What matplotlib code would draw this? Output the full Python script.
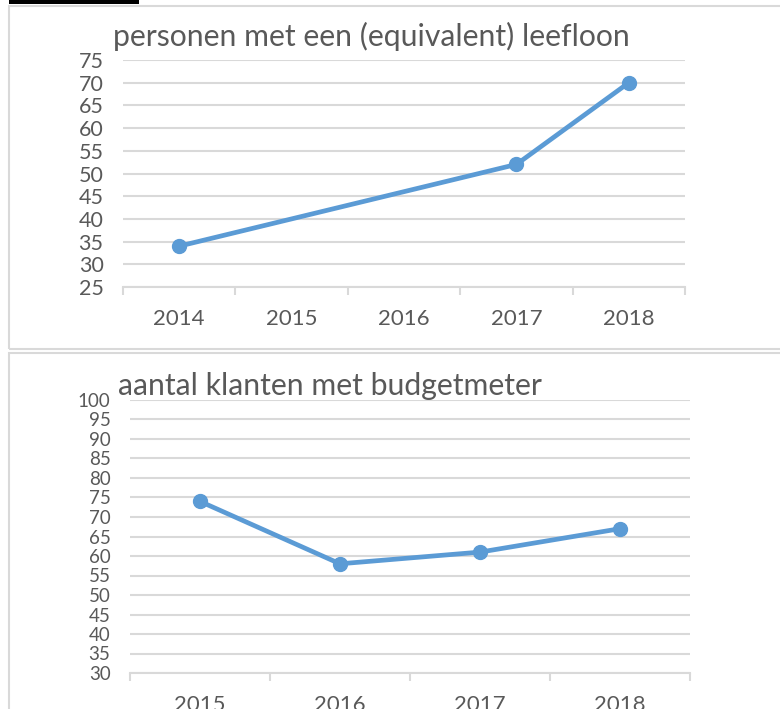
import numpy as np
import matplotlib.pyplot as plt
from matplotlib.patches import Rectangle

# Data
years_top = ['2014', '2015', '2016', '2017', '2018']
leefloon = [34, None, None, 52, 70]   # no values for 2015 and 2016
years_bottom = ['2015', '2016', '2017', '2018']
budgetmeter = [74, 58, 61, 67]

title_top = 'personen met een (equivalent) leefloon'
title_bottom = 'aantal klanten met budgetmeter'

# Style
LINE = '#5B9BD5'
GRID = '#D9D9D9'
TEXT = '#595959'
plt.rcParams['font.family'] = ['Lato', 'DejaVu Sans']

W, H = 780, 709
fig = plt.figure(figsize=(W / 100, H / 100), dpi=100)


def px_axes(x0, y0, x1, y1):
    # axes from pixel coordinates (top-left origin)
    return fig.add_axes([x0 / W, 1 - y1 / H, (x1 - x0) / W, (y1 - y0) / H])


def style_axes(ax, cats, vals, ymin, ymax, ysize, xsize):
    n = len(cats)
    x = np.arange(n)
    v = np.array([np.nan if a is None else a for a in vals], dtype=float)
    ok = ~np.isnan(v)
    ax.plot(x[ok], v[ok], color=LINE, lw=3.4, marker='o', ms=10,
            solid_capstyle='round', zorder=3, clip_on=False)
    ax.set_xlim(-0.5, n - 0.5)
    ax.set_ylim(ymin, ymax)
    ax.set_yticks(np.arange(ymin, ymax + 1, 5))
    ax.set_xticks(x)
    ax.set_xticklabels(cats)
    ax.set_xticks(np.arange(n + 1) - 0.5, minor=True)
    ax.grid(axis='y', color=GRID, lw=1.5)
    ax.set_axisbelow(True)
    for s in ['top', 'left', 'right']:
        ax.spines[s].set_visible(False)
    ax.spines['bottom'].set_color(GRID)
    ax.spines['bottom'].set_linewidth(1.5)
    ax.tick_params(axis='y', length=0, pad=14, labelsize=ysize, labelcolor=TEXT)
    ax.tick_params(axis='x', which='major', length=0, pad=16, labelsize=xsize, labelcolor=TEXT)
    ax.tick_params(axis='x', which='minor', length=6, width=1.5, color=GRID)


# chart boxes and the black bar at the top
fig.add_artist(Rectangle((9 / W, 1 - 349 / H), 1, 343 / H, transform=fig.transFigure,
                         fill=False, ec=GRID, lw=1.5))
fig.add_artist(Rectangle((9 / W, -0.1), 1, 0.1 + 1 - 353 / H, transform=fig.transFigure,
                         fill=False, ec=GRID, lw=1.5))
fig.add_artist(Rectangle((9 / W, 1 - 4 / H), 130 / W, 4 / H, transform=fig.transFigure,
                         color='black', lw=0))

ax1 = px_axes(123, 60, 685, 287)
style_axes(ax1, years_top, leefloon, 25, 75, 15.5, 16)
fig.text(113 / W, 1 - 36 / H, title_top, fontsize=21.7, color=TEXT, va='center', ha='left')

ax2 = px_axes(130, 400, 690, 673)
style_axes(ax2, years_bottom, budgetmeter, 30, 100, 13.5, 16)
fig.text(118 / W, 1 - 386 / H, title_bottom, fontsize=21.7, color=TEXT, va='center', ha='left')

fig.savefig('out.png', dpi=100, facecolor='white')
